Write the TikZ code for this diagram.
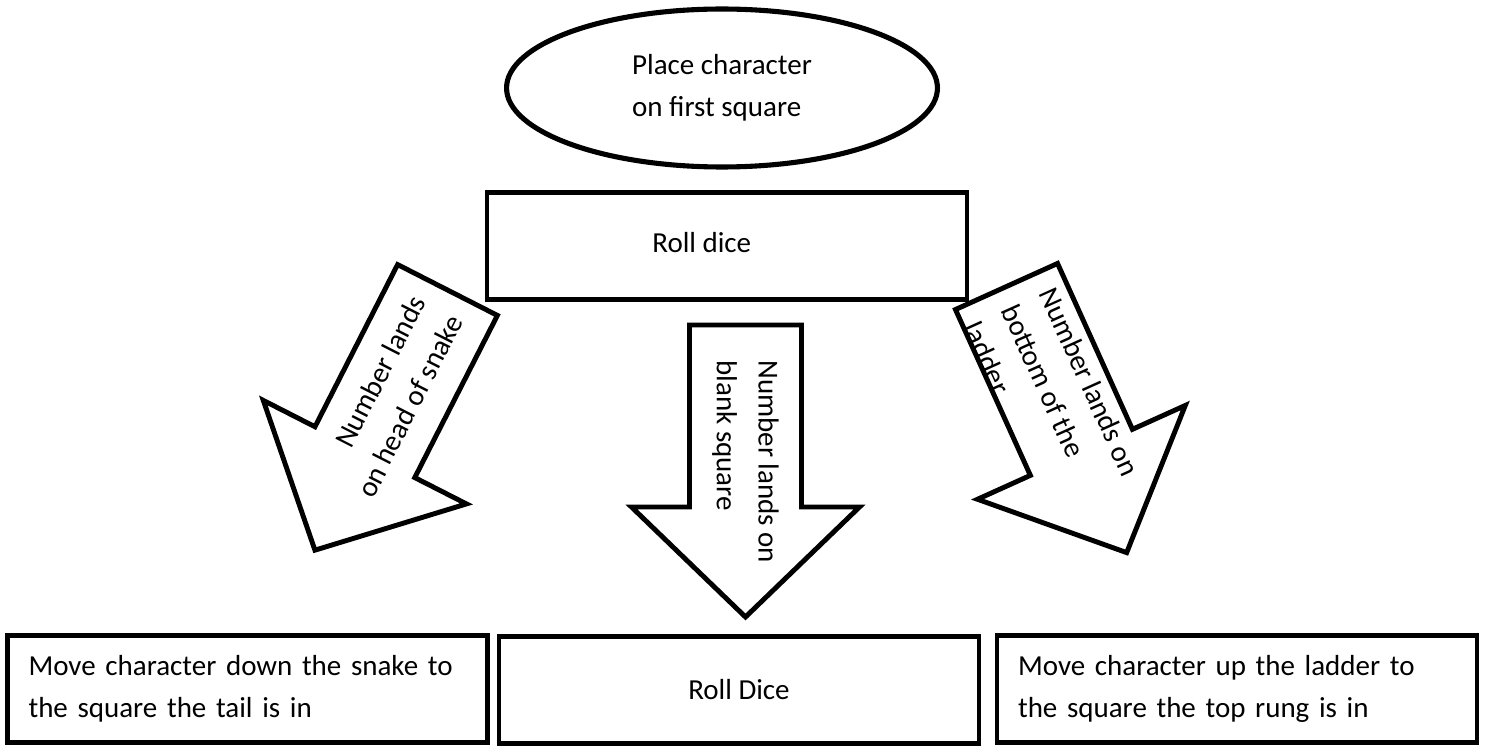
\documentclass[tikz,border=0pt]{standalone}
\usepackage{fontspec}
\setmainfont{Carlito}
\usepackage{tikz}
\usetikzlibrary{positioning,calc,shapes.geometric}
\newcommand{\flowfont}{\fontsize{16.5}{23.8}\selectfont}
\tikzset{
    flowbox/.style={draw=black, line width=2.7pt, fill=white, minimum width=9.6cm, minimum height=2.14cm, inner sep=0pt, font=\flowfont},
    startnode/.style={ellipse, draw=black, line width=2.9pt, fill=white, minimum width=8.62cm, minimum height=3.16cm, inner sep=0pt, align=left, font=\flowfont},
    arrowbox/.style={draw=black, line width=2.8pt, fill=white},
    arrowtext/.style={inner sep=0pt, align=left, font=\flowfont, transform shape}
}
% block arrow: name, tail centre, direction, text position, text options, text
\newcommand{\blockarrow}[6]{%
    \begin{scope}[shift={#2}, rotate=#3]
        \draw[arrowbox] (0,-56) -- (182,-56) -- (182,-114) -- (292,0) -- (182,114) -- (182,56) -- (0,56) -- cycle;
        \node[arrowtext, #5] (#1) at #4 {#6};
    \end{scope}}

\begin{document}
\begin{tikzpicture}[x=0.02cm, y=-0.02cm]
        \useasboundingbox (0,0) rectangle (1488,746);

        % --- START ---
        \node[startnode] (start) at (722,88) {Place character\\on first square};

        % --- ROLL ---
        \node[flowbox, line width=2.4pt] (roll) at (727,246) {};
        \node[font=\flowfont, inner sep=0pt, anchor=west] (rolltext) at (652,243) {Roll dice};

        % --- ARROWS ---
        % left: snake
        \blockarrow{snake}{(447.5,290)}{-117}{(20,2)}{anchor=east, rotate=180, align=right}{Number lands\\on head of snake}
        % middle: blank square
        \blockarrow{blank}{(745.5,325)}{-90}{(35,0)}{anchor=west}{Number lands on\\blank square}
        % right: ladder
        \blockarrow{ladder}{(1006.5,286.5)}{-65.7}{(19,5)}{anchor=west}{Number lands on\\bottom of the\\ladder}

        % --- RESULTS ---
        \node[flowbox, text width=8.76cm, inner xsep=0.42cm, align=left] (snakebox) at (247.5,689) {Move character down the snake to\\the square the tail is in};
        \node[flowbox] (dicebox) at (739,690) {Roll Dice};
        \node[flowbox, text width=8.76cm, inner xsep=0.42cm, align=left] (ladderbox) at (1237,689) {Move character up the ladder to\\the square the top rung is in};

    \end{tikzpicture}
\end{document}
